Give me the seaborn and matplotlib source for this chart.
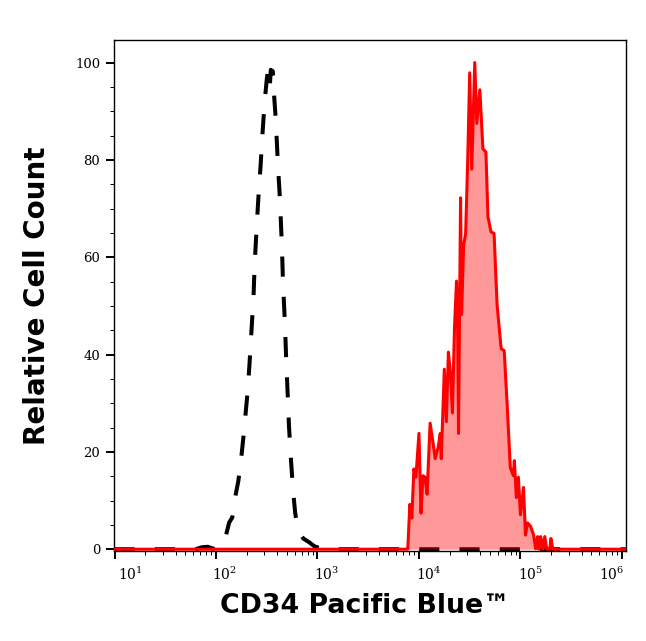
import numpy as np
import pandas as pd
import matplotlib
matplotlib.use("Agg")
import matplotlib.pyplot as plt
import matplotlib.ticker as mticker
import matplotlib.transforms as mtransforms
import seaborn as sns

# isotype control (black dashed), log10 of intensity vs relative count
ctrl_log = [1.00, 1.80, 1.86, 1.92, 1.96, 2.00, 2.06, 2.10, 2.13, 2.16, 2.19, 2.22,
            2.25, 2.27, 2.29, 2.31, 2.33, 2.35, 2.37, 2.38, 2.40, 2.42, 2.44, 2.46,
            2.48, 2.50, 2.51, 2.53, 2.54, 2.56, 2.57, 2.59, 2.61, 2.63, 2.65, 2.66,
            2.68, 2.69, 2.71, 2.72, 2.74, 2.76, 2.78, 2.80, 2.82, 2.86, 2.92, 2.97,
            3.03, 3.08, 6.04]
ctrl_val = [0, 0, 0.4, 0.5, 0.2, 0, 1.0, 3.0, 5.5, 6.5, 10.8, 14.0,
            19, 23, 27.5, 32, 38, 45, 52, 58, 66, 73, 79, 86,
            92, 96.5, 98, 95, 98.5, 98.2, 94, 88, 79, 72, 62, 55,
            46, 40, 30, 25, 18, 12, 7.5, 5, 3.5, 2.2, 1.4, 0.6,
            0.2, 0, 0]

# CD34 stained sample (red filled)
cd34_log = [1.00, 3.88, 3.89, 3.91, 3.93, 3.95, 3.97, 4.00, 4.02, 4.04, 4.06, 4.08,
            4.11, 4.14, 4.16, 4.19, 4.21, 4.22, 4.25, 4.27, 4.29, 4.31, 4.33, 4.35,
            4.37, 4.38, 4.39, 4.41, 4.42, 4.44, 4.46, 4.48, 4.50, 4.52, 4.55, 4.57,
            4.60, 4.63, 4.66, 4.68, 4.71, 4.74, 4.77, 4.81, 4.84, 4.87, 4.90, 4.93,
            4.94, 4.96, 4.98, 5.00, 5.03, 5.05, 5.07, 5.10, 5.13, 5.15, 5.17, 5.18,
            5.20, 5.22, 5.24, 5.26, 5.29, 5.30, 5.32, 6.04]
cd34_val = [0, 0, 0, 9.2, 6.4, 16.5, 14.8, 23.8, 7.4, 15.1, 14.8, 11.3,
            25.9, 21.7, 18.6, 21.0, 23.8, 18.6, 37.0, 26.2, 40.5, 36.3, 28.0, 45.4,
            55.1, 48.5, 23.8, 72.2, 48.2, 62.4, 64.9, 79.5, 97.9, 78.1, 100, 87.5,
            94.4, 82.3, 81.6, 68.3, 65.2, 64.9, 50.2, 41.2, 40.8, 29.4, 16.8, 15.1,
            18.2, 10.6, 14.8, 7.1, 12.7, 2.9, 5.4, 4.7, 2.9, 0.1, 2.6, 0,
            2.6, 0, 2.6, 0, 0, 2.2, 0, 0]

ctrl = pd.DataFrame({"x": 10 ** np.array(ctrl_log), "y": ctrl_val})
cd34 = pd.DataFrame({"x": 10 ** np.array(cd34_log), "y": cd34_val})

sns.set_style("ticks")
plt.rcParams["mathtext.fontset"] = "dejavuserif"

fig = plt.figure(figsize=(6.46, 6.41), dpi=100)
ax = fig.add_axes([0.1757, 0.1409, 0.7933, 0.7972])

sns.lineplot(data=ctrl, x="x", y="y", ax=ax, color="black", linewidth=2.9,
             linestyle=(0, (5, 5)), estimator=None, sort=False, zorder=2)
ax.fill_between(cd34["x"], cd34["y"], 0, color="red", alpha=0.4, linewidth=0, zorder=2.5)
sns.lineplot(data=cd34, x="x", y="y", ax=ax, color="red", linewidth=2.2,
             estimator=None, sort=False, zorder=3)

ax.set_xscale("log")
ax.set_xlim(10 ** 0.99, 10 ** 6.04)
ax.set_ylim(-0.3, 104.7)

ax.xaxis.set_minor_locator(mticker.LogLocator(base=10, subs=np.arange(2, 10), numticks=20))
ax.xaxis.set_minor_formatter(mticker.NullFormatter())
ax.set_xticks([10 ** k for k in range(1, 7)])
ax.set_xticklabels([r"$10^{%d}$" % k for k in range(1, 7)])
ax.set_yticks([0, 20, 40, 60, 80, 100])
ax.yaxis.set_minor_locator(mticker.MultipleLocator(5))

ax.tick_params(axis="both", which="major", length=5.5, width=1.4, labelsize=10,
               labelfontfamily="DejaVu Serif", color="black", labelcolor="black")
ax.tick_params(axis="both", which="minor", length=3, width=0.7, color="black")
ax.tick_params(axis="y", which="major", labelsize=9.5, pad=4)
ax.tick_params(axis="x", which="major", pad=5)

shifts = [16, 9, 9, 10, 10, -10]
for lab, dx in zip(ax.get_xticklabels(), shifts):
    lab.set_transform(lab.get_transform() +
                      mtransforms.ScaledTranslation(dx / 100, 0, fig.dpi_scale_trans))

for sp in ax.spines.values():
    sp.set_visible(True)
    sp.set_color("black")
    sp.set_linewidth(1.0)

ax.set_xlabel("CD34 Pacific Blue™", fontsize=19.3, fontweight="bold",
              fontfamily="DejaVu Sans", va="center", color="black")
ax.xaxis.set_label_coords((365 - 113.5) / 512.5, -(606 - 550.7) / 511)
ax.set_ylabel("Relative Cell Count", fontsize=20, fontweight="bold",
              fontfamily="DejaVu Sans", va="center", color="black")
ax.yaxis.set_label_coords((37 - 113.5) / 512.5, (550.7 - 296) / 511)

fig.savefig("out.png", dpi=100)
